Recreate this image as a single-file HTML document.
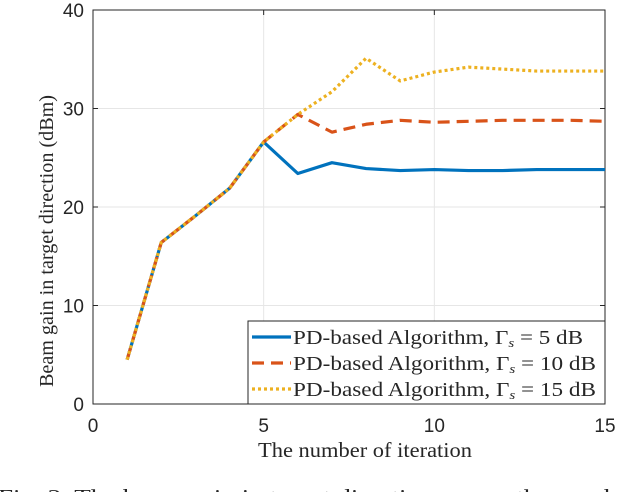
<!DOCTYPE html>
<html><head><meta charset="utf-8"><style>
body{margin:0;background:#fff;width:640px;height:492px;overflow:hidden}
svg text{font-family:"Liberation Serif",serif;fill:#262626}
svg text.tick{font-family:"Liberation Sans",sans-serif}
</style></head><body>
<svg id="chart" width="640" height="492" viewBox="0 0 640 492" xmlns="http://www.w3.org/2000/svg"></svg>
<script>
const iterations=[1,2,3,4,5,6,7,8,9,10,11,12,13,14,15];
const gain5=[4.5,16.4,19.1,21.9,26.6,23.4,24.5,23.9,23.7,23.8,23.7,23.7,23.8,23.8,23.8];
const gain10=[4.5,16.4,19.1,21.9,26.6,29.4,27.6,28.4,28.8,28.6,28.7,28.8,28.8,28.8,28.7];
const gain15=[4.5,16.4,19.1,21.9,26.6,29.4,31.7,35.1,32.8,33.7,34.2,34.0,33.8,33.8,33.8];
const xTicks=[0,5,10,15];
const yTicks=[0,10,20,30,40];
const seriesLabels=["PD-based Algorithm, Γ<tspan font-style='italic' font-size='13' dy='3'>s</tspan><tspan dy='-3'> = 5 dB</tspan>","PD-based Algorithm, Γ<tspan font-style='italic' font-size='13' dy='3'>s</tspan><tspan dy='-3'> = 10 dB</tspan>","PD-based Algorithm, Γ<tspan font-style='italic' font-size='13' dy='3'>s</tspan><tspan dy='-3'> = 15 dB</tspan>"];

const L=93,R=605,T=10,B=404;
const xs=v=>L+(v-0)/15*(R-L);
const ys=v=>B-(v-0)/40*(B-T);
const svg=document.getElementById('chart');
const NS='http://www.w3.org/2000/svg';
function mk(tag,attrs,parent){const e=document.createElementNS(NS,tag);for(const k in attrs)e.setAttribute(k,attrs[k]);(parent||svg).appendChild(e);return e;}

mk('rect',{x:L,y:T,width:R-L,height:B-T,fill:'#fff'});
xTicks.forEach(t=>{
  const g=mk('line',{x1:xs(t),x2:xs(t),y1:T,y2:B,stroke:'#e6e6e6','stroke-width':1});
  
  
  mk('line',{x1:xs(t),x2:xs(t),y1:B,y2:B-5,stroke:'#262626','stroke-width':1});
  mk('line',{x1:xs(t),x2:xs(t),y1:T,y2:T+5,stroke:'#262626','stroke-width':1});
  const lb=mk('text',{x:xs(t),y:B+28,'text-anchor':'middle','font-size':19,'class':'tick'});
  lb.textContent=t;
  
  
});
yTicks.forEach(t=>{
  const g=mk('line',{x1:L,x2:R,y1:ys(t),y2:ys(t),stroke:'#e6e6e6','stroke-width':1});
  
  
  mk('line',{x1:L,x2:L+5,y1:ys(t),y2:ys(t),stroke:'#262626','stroke-width':1});
  mk('line',{x1:R,x2:R-5,y1:ys(t),y2:ys(t),stroke:'#262626','stroke-width':1});
  const lb=mk('text',{x:L-9,y:ys(t)+7,'text-anchor':'end','font-size':19,'class':'tick'});
  lb.textContent=t;
  
  
});
const frame=mk('rect',{x:L,y:T,width:R-L,height:B-T,fill:'none',stroke:'#262626','stroke-width':1});



const styles=[{c:'#0072bd',d:'none',n:'series-5db'},{c:'#d95319',d:'12 7',n:'series-10db'},{c:'#edb120',d:'3 3',n:'series-15db'}];
[gain5,gain10,gain15].forEach((arr,i)=>{
  const p=mk('polyline',{points:arr.map((v,j)=>xs(iterations[j])+','+ys(v)).join(' '),fill:'none',stroke:styles[i].c,'stroke-width':3.2,'stroke-dasharray':styles[i].d,'stroke-linejoin':'round'});
  
  
});

const lg=mk('g',{});


mk('rect',{x:248,y:321,width:357,height:83,fill:'#fff',stroke:'#262626','stroke-width':1},lg);
const lens=[290,303,303];
seriesLabels.forEach((s,i)=>{
  const y=337+i*26;
  const l=mk('line',{x1:252,x2:291,y1:y,y2:y,stroke:styles[i].c,'stroke-width':3.2,'stroke-dasharray':styles[i].d},lg);
  
  
  const t=mk('text',{x:293,y:y+7,'font-size':20,textLength:lens[i],lengthAdjust:'spacingAndGlyphs'},lg);
  t.innerHTML=s;
  
  
});

const xt=mk('text',{x:365,y:457,'text-anchor':'middle','font-size':21,textLength:214,lengthAdjust:'spacingAndGlyphs'});
xt.textContent='The number of iteration';


const yt=mk('text',{x:0,y:0,'text-anchor':'middle','font-size':20,textLength:292,lengthAdjust:'spacingAndGlyphs',transform:`translate(53,241) rotate(-90)`});
yt.textContent='Beam gain in target direction (dBm)';


const cap=mk('text',{x:-2,y:504,'font-size':21,textLength:670,lengthAdjust:'spacingAndGlyphs'});
cap.textContent='Fig. 3.  The beam gain in target direction versus the number of';


</script>
</body></html>
